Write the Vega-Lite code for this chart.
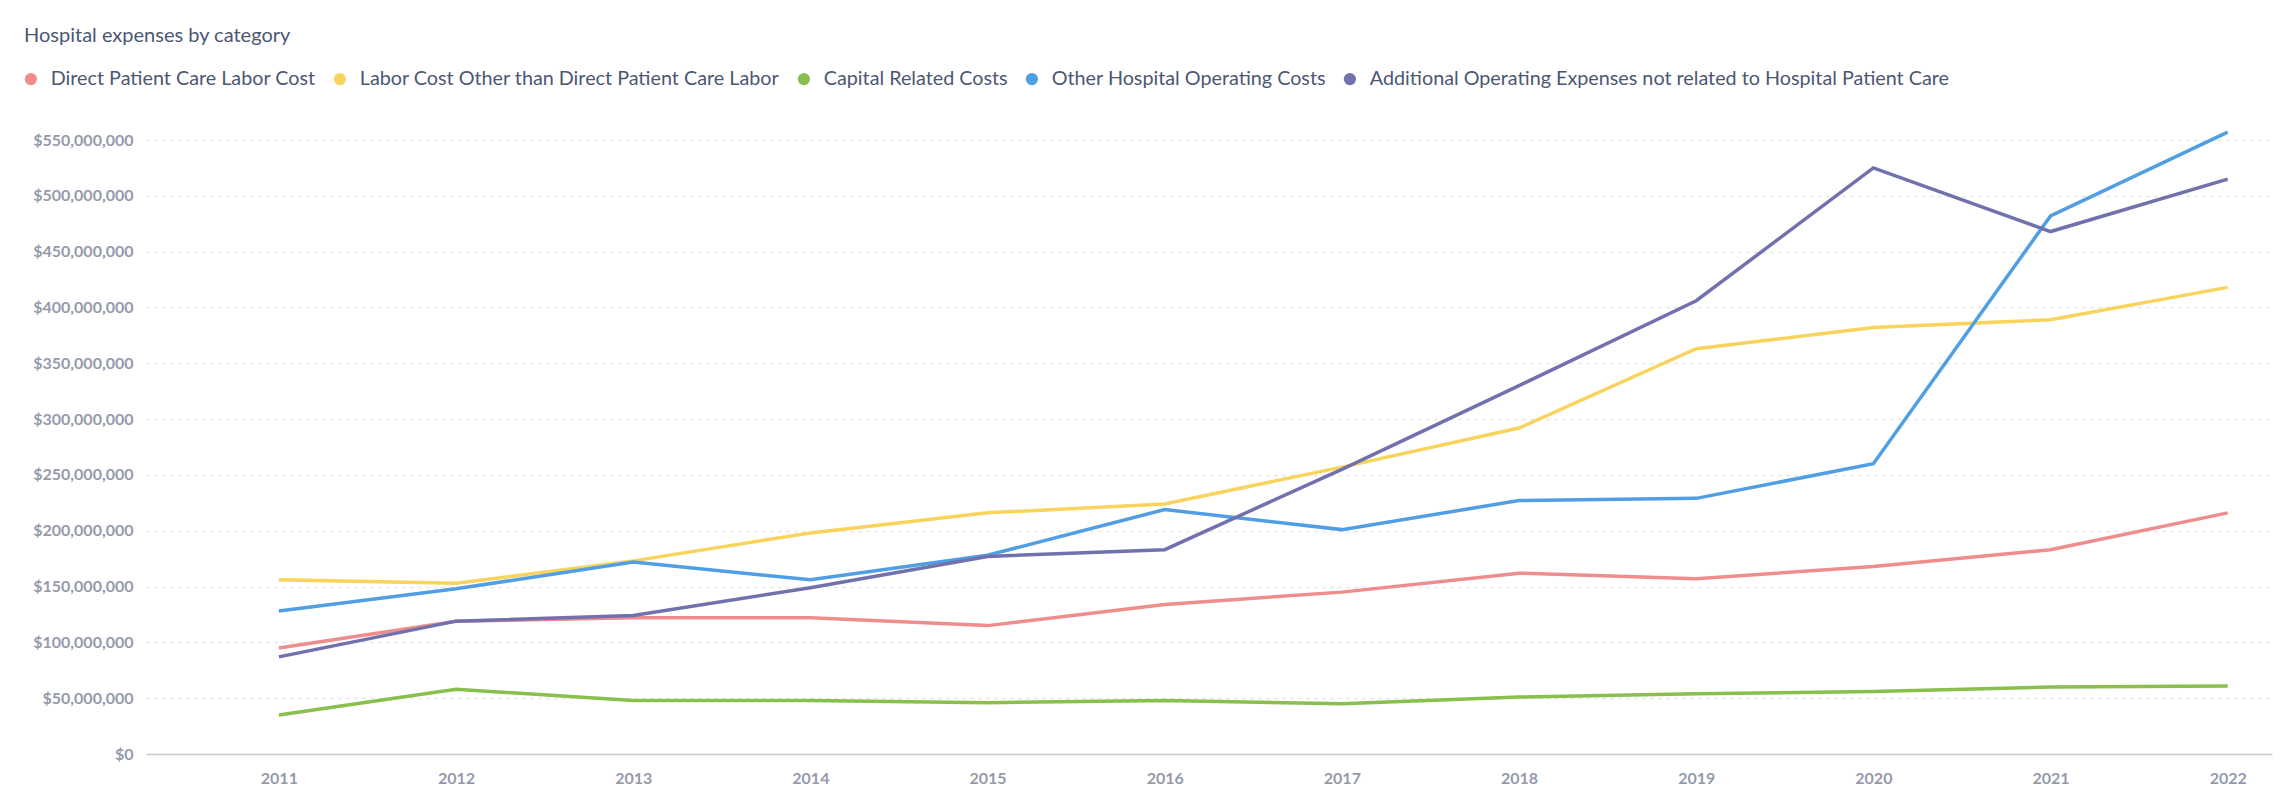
{
  "$schema": "https://vega.github.io/schema/vega-lite/v6.json",
  "width": 2126,
  "height": 614,
  "autosize": {"type": "none"},
  "padding": {"left": 146, "top": 140, "right": 10, "bottom": 55},
  "background": "white",
  "config": {"font": "Lato", "view": {"stroke": null}},
  "title": {
    "text": "Hospital expenses by category",
    "anchor": "start",
    "frame": "group",
    "dx": -122,
    "dy": -19,
    "fontSize": 20,
    "fontWeight": "normal",
    "color": "#4C5773",
    "font": "Lato"
  },
  "data": {
    "values": [
      {"year": "2011", "category": "Direct Patient Care Labor Cost", "value": 95000000},
      {"year": "2012", "category": "Direct Patient Care Labor Cost", "value": 119000000},
      {"year": "2013", "category": "Direct Patient Care Labor Cost", "value": 122000000},
      {"year": "2014", "category": "Direct Patient Care Labor Cost", "value": 122000000},
      {"year": "2015", "category": "Direct Patient Care Labor Cost", "value": 115000000},
      {"year": "2016", "category": "Direct Patient Care Labor Cost", "value": 134000000},
      {"year": "2017", "category": "Direct Patient Care Labor Cost", "value": 145000000},
      {"year": "2018", "category": "Direct Patient Care Labor Cost", "value": 162000000},
      {"year": "2019", "category": "Direct Patient Care Labor Cost", "value": 157000000},
      {"year": "2020", "category": "Direct Patient Care Labor Cost", "value": 168000000},
      {"year": "2021", "category": "Direct Patient Care Labor Cost", "value": 183000000},
      {"year": "2022", "category": "Direct Patient Care Labor Cost", "value": 216000000},
      {"year": "2011", "category": "Labor Cost Other than Direct Patient Care Labor", "value": 156000000},
      {"year": "2012", "category": "Labor Cost Other than Direct Patient Care Labor", "value": 153000000},
      {"year": "2013", "category": "Labor Cost Other than Direct Patient Care Labor", "value": 173000000},
      {"year": "2014", "category": "Labor Cost Other than Direct Patient Care Labor", "value": 198000000},
      {"year": "2015", "category": "Labor Cost Other than Direct Patient Care Labor", "value": 216000000},
      {"year": "2016", "category": "Labor Cost Other than Direct Patient Care Labor", "value": 224000000},
      {"year": "2017", "category": "Labor Cost Other than Direct Patient Care Labor", "value": 257000000},
      {"year": "2018", "category": "Labor Cost Other than Direct Patient Care Labor", "value": 292000000},
      {"year": "2019", "category": "Labor Cost Other than Direct Patient Care Labor", "value": 363000000},
      {"year": "2020", "category": "Labor Cost Other than Direct Patient Care Labor", "value": 382000000},
      {"year": "2021", "category": "Labor Cost Other than Direct Patient Care Labor", "value": 389000000},
      {"year": "2022", "category": "Labor Cost Other than Direct Patient Care Labor", "value": 418000000},
      {"year": "2011", "category": "Capital Related Costs", "value": 35000000},
      {"year": "2012", "category": "Capital Related Costs", "value": 58000000},
      {"year": "2013", "category": "Capital Related Costs", "value": 48000000},
      {"year": "2014", "category": "Capital Related Costs", "value": 48000000},
      {"year": "2015", "category": "Capital Related Costs", "value": 46000000},
      {"year": "2016", "category": "Capital Related Costs", "value": 48000000},
      {"year": "2017", "category": "Capital Related Costs", "value": 45000000},
      {"year": "2018", "category": "Capital Related Costs", "value": 51000000},
      {"year": "2019", "category": "Capital Related Costs", "value": 54000000},
      {"year": "2020", "category": "Capital Related Costs", "value": 56000000},
      {"year": "2021", "category": "Capital Related Costs", "value": 60000000},
      {"year": "2022", "category": "Capital Related Costs", "value": 61000000},
      {"year": "2011", "category": "Other Hospital Operating Costs", "value": 128000000},
      {"year": "2012", "category": "Other Hospital Operating Costs", "value": 148000000},
      {"year": "2013", "category": "Other Hospital Operating Costs", "value": 172000000},
      {"year": "2014", "category": "Other Hospital Operating Costs", "value": 156000000},
      {"year": "2015", "category": "Other Hospital Operating Costs", "value": 178000000},
      {"year": "2016", "category": "Other Hospital Operating Costs", "value": 219000000},
      {"year": "2017", "category": "Other Hospital Operating Costs", "value": 201000000},
      {"year": "2018", "category": "Other Hospital Operating Costs", "value": 227000000},
      {"year": "2019", "category": "Other Hospital Operating Costs", "value": 229000000},
      {"year": "2020", "category": "Other Hospital Operating Costs", "value": 260000000},
      {"year": "2021", "category": "Other Hospital Operating Costs", "value": 482000000},
      {"year": "2022", "category": "Other Hospital Operating Costs", "value": 557000000},
      {"year": "2011", "category": "Additional Operating Expenses not related to Hospital Patient Care", "value": 87000000},
      {"year": "2012", "category": "Additional Operating Expenses not related to Hospital Patient Care", "value": 119000000},
      {"year": "2013", "category": "Additional Operating Expenses not related to Hospital Patient Care", "value": 124000000},
      {"year": "2014", "category": "Additional Operating Expenses not related to Hospital Patient Care", "value": 149000000},
      {"year": "2015", "category": "Additional Operating Expenses not related to Hospital Patient Care", "value": 177000000},
      {"year": "2016", "category": "Additional Operating Expenses not related to Hospital Patient Care", "value": 183000000},
      {"year": "2017", "category": "Additional Operating Expenses not related to Hospital Patient Care", "value": 255000000},
      {"year": "2018", "category": "Additional Operating Expenses not related to Hospital Patient Care", "value": 330000000},
      {"year": "2019", "category": "Additional Operating Expenses not related to Hospital Patient Care", "value": 406000000},
      {"year": "2020", "category": "Additional Operating Expenses not related to Hospital Patient Care", "value": 525000000},
      {"year": "2021", "category": "Additional Operating Expenses not related to Hospital Patient Care", "value": 468000000},
      {"year": "2022", "category": "Additional Operating Expenses not related to Hospital Patient Care", "value": 515000000}
    ]
  },
  "mark": {"type": "line", "strokeWidth": 3.5, "strokeJoin": "miter"},
  "encoding": {
    "x": {
      "field": "year",
      "type": "ordinal",
      "scale": {"type": "point", "padding": 0.5, "align": 0.75},
      "axis": {
        "title": null,
        "labelAngle": 0,
        "ticks": false,
        "domainColor": "#CCCCCC",
        "domainWidth": 1.5,
        "labelFont": "Lato",
        "labelFontSize": 16,
        "labelFontWeight": "bold",
        "labelColor": "#949AAB",
        "labelPadding": 16
      }
    },
    "y": {
      "field": "value",
      "type": "quantitative",
      "scale": {"domain": [0, 550000000], "nice": false},
      "axis": {
        "title": null,
        "values": [0, 50000000, 100000000, 150000000, 200000000, 250000000, 300000000, 350000000, 400000000, 450000000, 500000000, 550000000],
        "format": "$,.0f",
        "domain": false,
        "ticks": false,
        "gridColor": "#E4E4E4",
        "gridDash": [3, 5],
        "gridWidth": 1.5,
        "labelFont": "Lato",
        "labelFontSize": 16,
        "labelFontWeight": "bold",
        "labelColor": "#949AAB",
        "labelPadding": 13
      }
    },
    "color": {
      "field": "category",
      "type": "nominal",
      "scale": {
        "domain": ["Direct Patient Care Labor Cost", "Labor Cost Other than Direct Patient Care Labor", "Capital Related Costs", "Other Hospital Operating Costs", "Additional Operating Expenses not related to Hospital Patient Care"],
        "range": ["#EF8C8C", "#F9D45C", "#88BF4D", "#509EE3", "#7172AD"]
      },
      "legend": {
        "title": null,
        "orient": "none",
        "direction": "horizontal",
        "legendX": -125,
        "legendY": -71,
        "symbolType": "circle",
        "symbolSize": 150,
        "symbolStrokeWidth": 0,
        "labelFont": "Lato",
        "labelFontSize": 19.75,
        "labelColor": "#4C5773",
        "labelOffset": 10,
        "columnPadding": 14,
        "labelLimit": 1000,
        "encode": {
          "symbols": {
            "update": {
              "fill": {"scale": "color", "field": "value"},
              "fillOpacity": {"value": 1}
            }
          }
        }
      }
    }
  }
}
